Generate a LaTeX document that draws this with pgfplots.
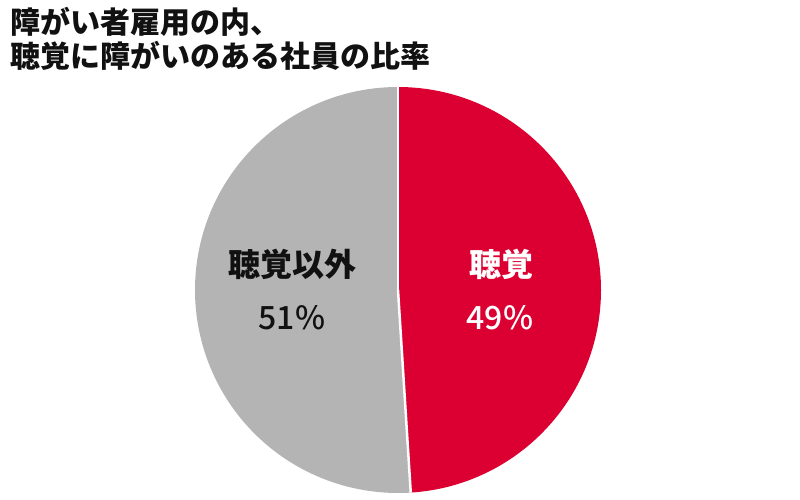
\documentclass[border=0pt]{standalone}
\usepackage{fontspec}
\usepackage{pgfplots}
\usepackage{pgfplotstable}
\pgfplotsset{compat=1.18}
\newfontfamily\cjk{Noto Sans CJK JP}
\newfontfamily\cjkmed{Noto Sans CJK JP Medium}
\definecolor{pieRed}{HTML}{DC0032}
\definecolor{pieGray}{HTML}{B4B4B4}
\definecolor{txt}{HTML}{111111}
\pgfplotstableread{
share
49
51
}\piedata
\begin{document}
\begin{tikzpicture}
\path[use as bounding box] (0,0) rectangle (800bp,500bp);
\pgfplotstablegetelem{0}{share}\of\piedata \let\vA\pgfplotsretval
\pgfplotstablegetelem{1}{share}\of\piedata \let\vB\pgfplotsretval
\begin{axis}[at={(398bp,210bp)}, anchor=center, width=406bp, height=406bp,
  scale only axis, hide axis, xmin=-1, xmax=1, ymin=-1, ymax=1, clip=false]
\addplot[draw=none] coordinates {(0,0)};
\pgfmathsetmacro{\endA}{90-3.6*\vA}
\pgfmathsetmacro{\endB}{90+3.6*\vB}
\fill[pieRed] (axis cs:0,0) -- (axis cs:0,1) arc[start angle=90, end angle=\endA, radius=203bp] -- cycle;
\fill[pieGray] (axis cs:0,0) -- (axis cs:0,1) arc[start angle=90, end angle=\endB, radius=203bp] -- cycle;
\draw[white, line width=2.5bp] (axis cs:0,0) -- (axis cs:0,1);
\draw[white, line width=2.5bp] (axis cs:0,0) -- (axis cs:{cos(\endA)},{sin(\endA)});
\end{axis}
% labels
\node[text=txt, font=\cjk\bfseries\fontsize{32bp}{32bp}\selectfont] at (292bp,236bp) {聴覚以外};
\node[text=txt, font=\cjkmed\fontsize{32bp}{32bp}\selectfont] at (292bp,182bp) {51\%};
\node[text=white, font=\cjk\bfseries\fontsize{32bp}{32bp}\selectfont] at (501bp,236bp) {聴覚};
\node[text=white, font=\cjkmed\fontsize{32bp}{32bp}\selectfont] at (500bp,182bp) {49\%};
% title
\node[text=txt, anchor=north west, align=left, inner sep=0pt,
  font=\cjk\bfseries\fontsize{30bp}{34bp}\selectfont] at (10bp,493bp)
  {障がい者雇用の内、\\聴覚に障がいのある社員の比率};
\end{tikzpicture}
\end{document}
